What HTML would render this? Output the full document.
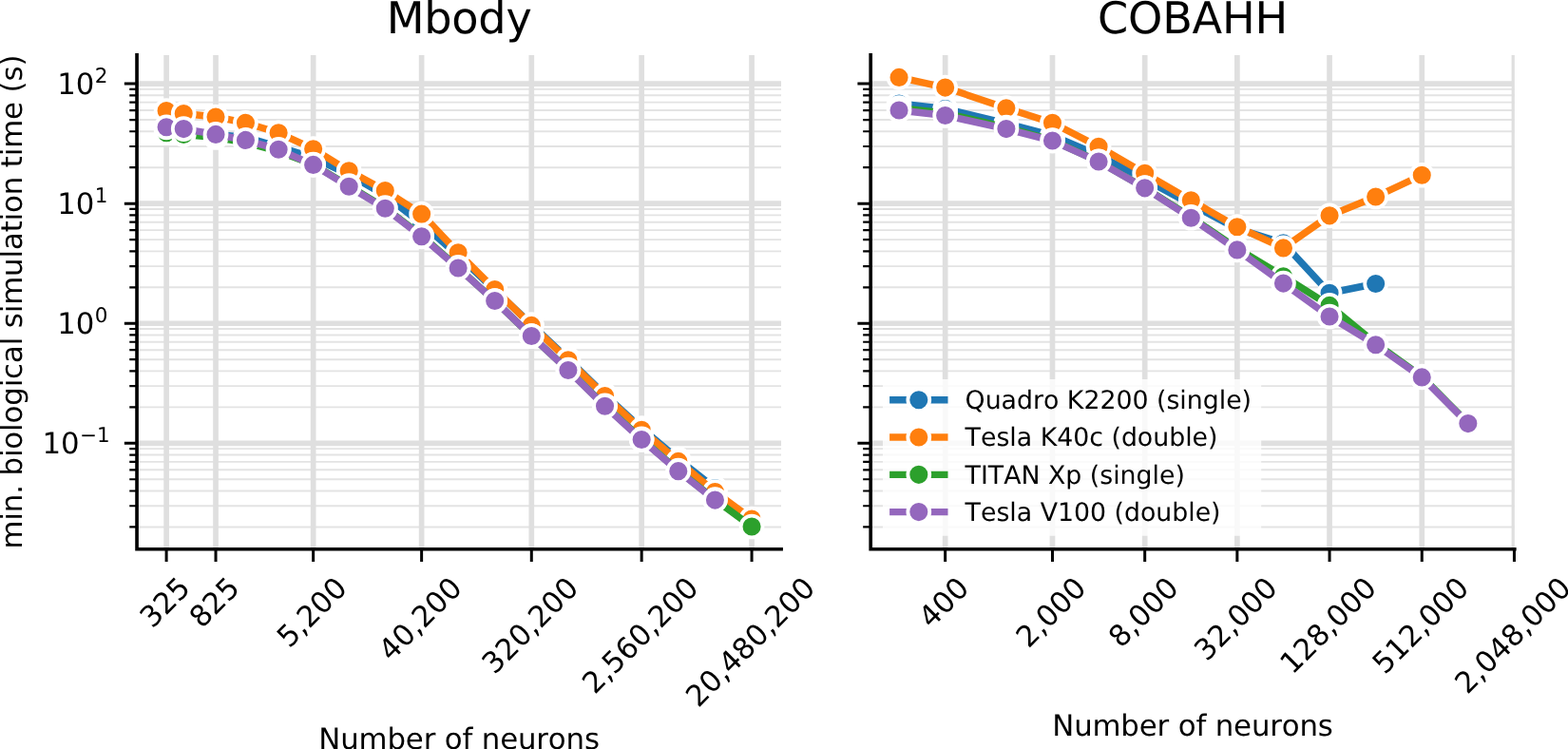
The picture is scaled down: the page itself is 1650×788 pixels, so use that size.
<!DOCTYPE html>
<html lang="en">
<head>
<meta charset="utf-8">
<title>Minimum biological simulation time: Mbody and COBAHH</title>
<style>
html,body{margin:0;padding:0;background:#ffffff;}
body{width:1650px;height:788px;overflow:hidden;}
svg{display:block;}
text{font-family:"DejaVu Sans", "Liberation Sans", sans-serif;font-kerning:none;font-variant-ligatures:none;text-rendering:geometricPrecision;}
</style>
</head>
<body>
<svg width="1650" height="788" viewBox="0 0 1650 788" role="img" aria-label="Minimum biological simulation time versus number of neurons for the Mbody and COBAHH benchmarks" font-family='"DejaVu Sans", "Liberation Sans", sans-serif'>
<rect width="1650" height="788" fill="#ffffff"/>
<defs><clipPath id="clip0"><rect x="144.05" y="57.9" width="678.05" height="519.85"/></clipPath></defs>
<g clip-path="url(#clip0)">
<path d="M144.05 554.43H822.1M144.05 532.23H822.1M144.05 516.48H822.1M144.05 504.26H822.1M144.05 494.28H822.1M144.05 485.84H822.1M144.05 478.53H822.1M144.05 472.08H822.1M144.05 428.36H822.1M144.05 406.16H822.1M144.05 390.41H822.1M144.05 378.19H822.1M144.05 368.21H822.1M144.05 359.77H822.1M144.05 352.46H822.1M144.05 346.01H822.1M144.05 302.29H822.1M144.05 280.09H822.1M144.05 264.34H822.1M144.05 252.12H822.1M144.05 242.14H822.1M144.05 233.7H822.1M144.05 226.39H822.1M144.05 219.94H822.1M144.05 176.22H822.1M144.05 154.02H822.1M144.05 138.27H822.1M144.05 126.05H822.1M144.05 116.07H822.1M144.05 107.63H822.1M144.05 100.32H822.1M144.05 93.87H822.1" stroke="#e3e3e3" stroke-width="1.9" fill="none"/>
<path d="M144.05 88.1H822.1M144.05 214.17H822.1M144.05 340.24H822.1M144.05 466.31H822.1M175.1 57.9V577.75M227.02 57.9V577.75M329.64 57.9V577.75M443.63 57.9V577.75M559.29 57.9V577.75M675.16 57.9V577.75M791.06 57.9V577.75" stroke="#dfdfdf" stroke-width="5.7" fill="none"/>
</g>
<polyline points="175.1,136 193.24,137.8 227.02,141.5 258.45,144.4 293.11,154.6 329.64,165.8 367.19,183.6 405.27,205.5 443.63,235 482.13,268.9 520.69,305.3 559.29,341.5 597.91,377.7 636.53,415.4 675.16,450.7 713.79,483.2 752.43,513.6" fill="none" stroke="#1f77b4" stroke-width="7.4" stroke-linejoin="round" stroke-linecap="butt"/>
<g fill="#1f77b4" stroke="#ffffff" stroke-width="3.8">
<circle cx="175.1" cy="136" r="11.45"/>
<circle cx="193.24" cy="137.8" r="11.45"/>
<circle cx="227.02" cy="141.5" r="11.45"/>
<circle cx="258.45" cy="144.4" r="11.45"/>
<circle cx="293.11" cy="154.6" r="11.45"/>
<circle cx="329.64" cy="165.8" r="11.45"/>
<circle cx="367.19" cy="183.6" r="11.45"/>
<circle cx="405.27" cy="205.5" r="11.45"/>
<circle cx="443.63" cy="235" r="11.45"/>
<circle cx="482.13" cy="268.9" r="11.45"/>
<circle cx="520.69" cy="305.3" r="11.45"/>
<circle cx="559.29" cy="341.5" r="11.45"/>
<circle cx="597.91" cy="377.7" r="11.45"/>
<circle cx="636.53" cy="415.4" r="11.45"/>
<circle cx="675.16" cy="450.7" r="11.45"/>
<circle cx="713.79" cy="483.2" r="11.45"/>
<circle cx="752.43" cy="513.6" r="11.45"/>
</g>
<polyline points="175.1,116.6 193.24,119.5 227.02,123 258.45,129.25 293.11,139.8 329.64,156.7 367.19,179.8 405.27,200.5 443.63,225.15 482.13,265.8 520.69,304.45 559.29,342.4 597.91,378.75 636.53,416.5 675.16,452.2 713.79,485.4 752.43,517.5 791.06,546" fill="none" stroke="#ff7f0e" stroke-width="7.4" stroke-linejoin="round" stroke-linecap="butt"/>
<g fill="#ff7f0e" stroke="#ffffff" stroke-width="3.8">
<circle cx="175.1" cy="116.6" r="11.45"/>
<circle cx="193.24" cy="119.5" r="11.45"/>
<circle cx="227.02" cy="123" r="11.45"/>
<circle cx="258.45" cy="129.25" r="11.45"/>
<circle cx="293.11" cy="139.8" r="11.45"/>
<circle cx="329.64" cy="156.7" r="11.45"/>
<circle cx="367.19" cy="179.8" r="11.45"/>
<circle cx="405.27" cy="200.5" r="11.45"/>
<circle cx="443.63" cy="225.15" r="11.45"/>
<circle cx="482.13" cy="265.8" r="11.45"/>
<circle cx="520.69" cy="304.45" r="11.45"/>
<circle cx="559.29" cy="342.4" r="11.45"/>
<circle cx="597.91" cy="378.75" r="11.45"/>
<circle cx="636.53" cy="416.5" r="11.45"/>
<circle cx="675.16" cy="452.2" r="11.45"/>
<circle cx="713.79" cy="485.4" r="11.45"/>
<circle cx="752.43" cy="517.5" r="11.45"/>
<circle cx="791.06" cy="546" r="11.45"/>
</g>
<polyline points="175.1,139.7 193.24,141.5 227.02,144.5 258.45,150 293.11,159.3 329.64,173.1 367.19,195.7 405.27,218.6 443.63,248 482.13,281.45 520.69,316.7 559.29,353.7 597.91,389.2 636.53,426.8 675.16,461.85 713.79,495.05 752.43,525.6 791.06,554" fill="none" stroke="#2ca02c" stroke-width="7.4" stroke-linejoin="round" stroke-linecap="butt"/>
<g fill="#2ca02c" stroke="#ffffff" stroke-width="3.8">
<circle cx="175.1" cy="139.7" r="11.45"/>
<circle cx="193.24" cy="141.5" r="11.45"/>
<circle cx="227.02" cy="144.5" r="11.45"/>
<circle cx="258.45" cy="150" r="11.45"/>
<circle cx="293.11" cy="159.3" r="11.45"/>
<circle cx="329.64" cy="173.1" r="11.45"/>
<circle cx="367.19" cy="195.7" r="11.45"/>
<circle cx="405.27" cy="218.6" r="11.45"/>
<circle cx="443.63" cy="248" r="11.45"/>
<circle cx="482.13" cy="281.45" r="11.45"/>
<circle cx="520.69" cy="316.7" r="11.45"/>
<circle cx="559.29" cy="353.7" r="11.45"/>
<circle cx="597.91" cy="389.2" r="11.45"/>
<circle cx="636.53" cy="426.8" r="11.45"/>
<circle cx="675.16" cy="461.85" r="11.45"/>
<circle cx="713.79" cy="495.05" r="11.45"/>
<circle cx="752.43" cy="525.6" r="11.45"/>
<circle cx="791.06" cy="554" r="11.45"/>
</g>
<polyline points="175.1,133.8 193.24,135.6 227.02,141.4 258.45,147.4 293.11,157.3 329.64,173.4 367.19,196.3 405.27,219.3 443.63,248.8 482.13,282.05 520.69,316.5 559.29,353.5 597.91,389.5 636.53,427.3 675.16,462.45 713.79,495.65 752.43,526.1" fill="none" stroke="#9467bd" stroke-width="7.4" stroke-linejoin="round" stroke-linecap="butt"/>
<g fill="#9467bd" stroke="#ffffff" stroke-width="3.8">
<circle cx="175.1" cy="133.8" r="11.45"/>
<circle cx="193.24" cy="135.6" r="11.45"/>
<circle cx="227.02" cy="141.4" r="11.45"/>
<circle cx="258.45" cy="147.4" r="11.45"/>
<circle cx="293.11" cy="157.3" r="11.45"/>
<circle cx="329.64" cy="173.4" r="11.45"/>
<circle cx="367.19" cy="196.3" r="11.45"/>
<circle cx="405.27" cy="219.3" r="11.45"/>
<circle cx="443.63" cy="248.8" r="11.45"/>
<circle cx="482.13" cy="282.05" r="11.45"/>
<circle cx="520.69" cy="316.5" r="11.45"/>
<circle cx="559.29" cy="353.5" r="11.45"/>
<circle cx="597.91" cy="389.5" r="11.45"/>
<circle cx="636.53" cy="427.3" r="11.45"/>
<circle cx="675.16" cy="462.45" r="11.45"/>
<circle cx="713.79" cy="495.65" r="11.45"/>
<circle cx="752.43" cy="526.1" r="11.45"/>
</g>
<path d="M144.05 56.07V577.75H823.93" stroke="#000" stroke-width="3.65" fill="none" stroke-linejoin="miter" stroke-linecap="butt"/>
<path d="M175.1 577.75v13.2M227.02 577.75v13.2M329.64 577.75v13.2M443.63 577.75v13.2M559.29 577.75v13.2M675.16 577.75v13.2M791.06 577.75v13.2M144.05 88.1h-13.2M144.05 214.17h-13.2M144.05 340.24h-13.2M144.05 466.31h-13.2" stroke="#000" stroke-width="3.0" fill="none"/>
<path d="M144.05 554.43h-7.8M144.05 532.23h-7.8M144.05 516.48h-7.8M144.05 504.26h-7.8M144.05 494.28h-7.8M144.05 485.84h-7.8M144.05 478.53h-7.8M144.05 472.08h-7.8M144.05 428.36h-7.8M144.05 406.16h-7.8M144.05 390.41h-7.8M144.05 378.19h-7.8M144.05 368.21h-7.8M144.05 359.77h-7.8M144.05 352.46h-7.8M144.05 346.01h-7.8M144.05 302.29h-7.8M144.05 280.09h-7.8M144.05 264.34h-7.8M144.05 252.12h-7.8M144.05 242.14h-7.8M144.05 233.7h-7.8M144.05 226.39h-7.8M144.05 219.94h-7.8M144.05 176.22h-7.8M144.05 154.02h-7.8M144.05 138.27h-7.8M144.05 126.05h-7.8M144.05 116.07h-7.8M144.05 107.63h-7.8M144.05 100.32h-7.8M144.05 93.87h-7.8" stroke="#000" stroke-width="2.2" fill="none"/>
<text transform="translate(201.9 620.45) rotate(-45)" text-anchor="end" font-size="30.8" fill="#000">325</text>
<text transform="translate(253.82 620.45) rotate(-45)" text-anchor="end" font-size="30.8" fill="#000">825</text>
<text transform="translate(366.82 620.45) rotate(-45)" text-anchor="end" font-size="30.8" fill="#000">5,200</text>
<text transform="translate(487.75 620.45) rotate(-45)" text-anchor="end" font-size="30.8" fill="#000">40,200</text>
<text transform="translate(610.33 620.45) rotate(-45)" text-anchor="end" font-size="30.8" fill="#000">320,200</text>
<text transform="translate(736.6 620.45) rotate(-45)" text-anchor="end" font-size="30.8" fill="#000">2,560,200</text>
<text transform="translate(859.42 620.45) rotate(-45)" text-anchor="end" font-size="30.8" fill="#000">20,480,200</text>
<text x="60.15" y="98.9" font-size="30.8" fill="#000">10<tspan dy="-12.0" dx="0.3" font-size="21.5">2</tspan></text>
<text x="60.15" y="224.97" font-size="30.8" fill="#000">10<tspan dy="-12.0" dx="0.3" font-size="21.5">1</tspan></text>
<text x="60.15" y="351.04" font-size="30.8" fill="#000">10<tspan dy="-12.0" dx="0.3" font-size="21.5">0</tspan></text>
<text x="44.4" y="477.01" font-size="30.8" fill="#000">10<tspan dy="-12.0" dx="0.3" font-size="21.5">−1</tspan></text>
<text transform="translate(23.3 317.62) rotate(-90)" text-anchor="middle" font-size="30.8" letter-spacing="-0.118" fill="#000">min. biological simulation time (s)</text>
<text x="483.08" y="788" text-anchor="middle" font-size="30.8" letter-spacing="-0.15" fill="#000">Number of neurons</text>
<text x="483.08" y="34.85" text-anchor="middle" font-size="46.2" letter-spacing="-0.25" fill="#000">Mbody</text>
<defs><clipPath id="clip1"><rect x="916.2" y="57.9" width="677.6" height="519.85"/></clipPath></defs>
<g clip-path="url(#clip1)">
<path d="M916.2 554.43H1593.8M916.2 532.23H1593.8M916.2 516.48H1593.8M916.2 504.26H1593.8M916.2 494.28H1593.8M916.2 485.84H1593.8M916.2 478.53H1593.8M916.2 472.08H1593.8M916.2 428.36H1593.8M916.2 406.16H1593.8M916.2 390.41H1593.8M916.2 378.19H1593.8M916.2 368.21H1593.8M916.2 359.77H1593.8M916.2 352.46H1593.8M916.2 346.01H1593.8M916.2 302.29H1593.8M916.2 280.09H1593.8M916.2 264.34H1593.8M916.2 252.12H1593.8M916.2 242.14H1593.8M916.2 233.7H1593.8M916.2 226.39H1593.8M916.2 219.94H1593.8M916.2 176.22H1593.8M916.2 154.02H1593.8M916.2 138.27H1593.8M916.2 126.05H1593.8M916.2 116.07H1593.8M916.2 107.63H1593.8M916.2 100.32H1593.8M916.2 93.87H1593.8" stroke="#e3e3e3" stroke-width="1.9" fill="none"/>
<path d="M916.2 88.1H1593.8M916.2 214.17H1593.8M916.2 340.24H1593.8M916.2 466.31H1593.8M994.65 57.9V577.75M1107.48 57.9V577.75M1204.68 57.9V577.75M1301.87 57.9V577.75M1399.06 57.9V577.75M1496.25 57.9V577.75M1593.44 57.9V577.75" stroke="#dfdfdf" stroke-width="5.7" fill="none"/>
</g>
<polyline points="946.05,109 994.65,114.4 1058.89,129.8 1107.48,142.65 1156.08,163.5 1204.68,188.45 1253.27,215.1 1301.87,240.6 1350.46,255.75 1399.06,308.25 1447.65,298.5" fill="none" stroke="#1f77b4" stroke-width="7.4" stroke-linejoin="round" stroke-linecap="butt"/>
<g fill="#1f77b4" stroke="#ffffff" stroke-width="3.8">
<circle cx="946.05" cy="109" r="11.45"/>
<circle cx="994.65" cy="114.4" r="11.45"/>
<circle cx="1058.89" cy="129.8" r="11.45"/>
<circle cx="1107.48" cy="142.65" r="11.45"/>
<circle cx="1156.08" cy="163.5" r="11.45"/>
<circle cx="1204.68" cy="188.45" r="11.45"/>
<circle cx="1253.27" cy="215.1" r="11.45"/>
<circle cx="1301.87" cy="240.6" r="11.45"/>
<circle cx="1350.46" cy="255.75" r="11.45"/>
<circle cx="1399.06" cy="308.25" r="11.45"/>
<circle cx="1447.65" cy="298.5" r="11.45"/>
</g>
<polyline points="946.05,81.4 994.65,92.1 1058.89,113.7 1107.48,129.3 1156.08,154.2 1204.68,182.35 1253.27,210.8 1301.87,238.7 1350.46,260.9 1399.06,226.85 1447.65,207 1496.25,184.25" fill="none" stroke="#ff7f0e" stroke-width="7.4" stroke-linejoin="round" stroke-linecap="butt"/>
<g fill="#ff7f0e" stroke="#ffffff" stroke-width="3.8">
<circle cx="946.05" cy="81.4" r="11.45"/>
<circle cx="994.65" cy="92.1" r="11.45"/>
<circle cx="1058.89" cy="113.7" r="11.45"/>
<circle cx="1107.48" cy="129.3" r="11.45"/>
<circle cx="1156.08" cy="154.2" r="11.45"/>
<circle cx="1204.68" cy="182.35" r="11.45"/>
<circle cx="1253.27" cy="210.8" r="11.45"/>
<circle cx="1301.87" cy="238.7" r="11.45"/>
<circle cx="1350.46" cy="260.9" r="11.45"/>
<circle cx="1399.06" cy="226.85" r="11.45"/>
<circle cx="1447.65" cy="207" r="11.45"/>
<circle cx="1496.25" cy="184.25" r="11.45"/>
</g>
<polyline points="946.05,113.6 994.65,119 1058.89,134.1 1107.48,147.65 1156.08,169.9 1204.68,197.65 1253.27,228.45 1301.87,261.4 1350.46,290.75 1399.06,321.4 1447.65,361.3 1496.25,396.2 1544.84,445.1" fill="none" stroke="#2ca02c" stroke-width="7.4" stroke-linejoin="round" stroke-linecap="butt"/>
<g fill="#2ca02c" stroke="#ffffff" stroke-width="3.8">
<circle cx="946.05" cy="113.6" r="11.45"/>
<circle cx="994.65" cy="119" r="11.45"/>
<circle cx="1058.89" cy="134.1" r="11.45"/>
<circle cx="1107.48" cy="147.65" r="11.45"/>
<circle cx="1156.08" cy="169.9" r="11.45"/>
<circle cx="1204.68" cy="197.65" r="11.45"/>
<circle cx="1253.27" cy="228.45" r="11.45"/>
<circle cx="1301.87" cy="261.4" r="11.45"/>
<circle cx="1350.46" cy="290.75" r="11.45"/>
<circle cx="1399.06" cy="321.4" r="11.45"/>
<circle cx="1447.65" cy="361.3" r="11.45"/>
<circle cx="1496.25" cy="396.2" r="11.45"/>
<circle cx="1544.84" cy="445.1" r="11.45"/>
</g>
<polyline points="946.05,116.05 994.65,121.45 1058.89,135.6 1107.48,148.05 1156.08,170 1204.68,197.85 1253.27,229.25 1301.87,262.9 1350.46,298.1 1399.06,333 1447.65,362.7 1496.25,396.9 1544.84,445.6" fill="none" stroke="#9467bd" stroke-width="7.4" stroke-linejoin="round" stroke-linecap="butt"/>
<g fill="#9467bd" stroke="#ffffff" stroke-width="3.8">
<circle cx="946.05" cy="116.05" r="11.45"/>
<circle cx="994.65" cy="121.45" r="11.45"/>
<circle cx="1058.89" cy="135.6" r="11.45"/>
<circle cx="1107.48" cy="148.05" r="11.45"/>
<circle cx="1156.08" cy="170" r="11.45"/>
<circle cx="1204.68" cy="197.85" r="11.45"/>
<circle cx="1253.27" cy="229.25" r="11.45"/>
<circle cx="1301.87" cy="262.9" r="11.45"/>
<circle cx="1350.46" cy="298.1" r="11.45"/>
<circle cx="1399.06" cy="333" r="11.45"/>
<circle cx="1447.65" cy="362.7" r="11.45"/>
<circle cx="1496.25" cy="396.9" r="11.45"/>
<circle cx="1544.84" cy="445.6" r="11.45"/>
</g>
<rect x="929" y="399" width="398.20000000000005" height="164.79999999999995" rx="5" ry="5" fill="#ffffff" fill-opacity="0.8" stroke="#cccccc" stroke-opacity="0.0"/>
<path d="M936.1 420.8H997.5" stroke="#1f77b4" stroke-width="7.4" fill="none"/>
<circle cx="966.8" cy="420.8" r="11.45" fill="#1f77b4" stroke="#ffffff" stroke-width="3.8"/>
<text x="1015.6" y="430.1" font-size="26.75" fill="#000">Quadro K2200 (single)</text>
<path d="M936.1 460.07H997.5" stroke="#ff7f0e" stroke-width="7.4" fill="none"/>
<circle cx="966.8" cy="460.07" r="11.45" fill="#ff7f0e" stroke="#ffffff" stroke-width="3.8"/>
<text x="1015.6" y="469.37" font-size="26.75" fill="#000">Tesla K40c (double)</text>
<path d="M936.1 499.34H997.5" stroke="#2ca02c" stroke-width="7.4" fill="none"/>
<circle cx="966.8" cy="499.34" r="11.45" fill="#2ca02c" stroke="#ffffff" stroke-width="3.8"/>
<text x="1015.6" y="508.64" font-size="26.75" fill="#000">TITAN Xp (single)</text>
<path d="M936.1 538.61H997.5" stroke="#9467bd" stroke-width="7.4" fill="none"/>
<circle cx="966.8" cy="538.61" r="11.45" fill="#9467bd" stroke="#ffffff" stroke-width="3.8"/>
<text x="1015.6" y="547.91" font-size="26.75" fill="#000">Tesla V100 (double)</text>
<path d="M916.2 56.07V577.75H1595.62" stroke="#000" stroke-width="3.65" fill="none" stroke-linejoin="miter" stroke-linecap="butt"/>
<path d="M994.65 577.75v13.2M1107.48 577.75v13.2M1204.68 577.75v13.2M1301.87 577.75v13.2M1399.06 577.75v13.2M1496.25 577.75v13.2M1593.44 577.75v13.2M916.2 88.1h-13.8M916.2 214.17h-13.8M916.2 340.24h-13.8M916.2 466.31h-13.8" stroke="#000" stroke-width="3.0" fill="none"/>
<path d="M916.2 554.43h-8.05M916.2 532.23h-8.05M916.2 516.48h-8.05M916.2 504.26h-8.05M916.2 494.28h-8.05M916.2 485.84h-8.05M916.2 478.53h-8.05M916.2 472.08h-8.05M916.2 428.36h-8.05M916.2 406.16h-8.05M916.2 390.41h-8.05M916.2 378.19h-8.05M916.2 368.21h-8.05M916.2 359.77h-8.05M916.2 352.46h-8.05M916.2 346.01h-8.05M916.2 302.29h-8.05M916.2 280.09h-8.05M916.2 264.34h-8.05M916.2 252.12h-8.05M916.2 242.14h-8.05M916.2 233.7h-8.05M916.2 226.39h-8.05M916.2 219.94h-8.05M916.2 176.22h-8.05M916.2 154.02h-8.05M916.2 138.27h-8.05M916.2 126.05h-8.05M916.2 116.07h-8.05M916.2 107.63h-8.05M916.2 100.32h-8.05M916.2 93.87h-8.05" stroke="#000" stroke-width="2.2" fill="none"/>
<text transform="translate(1021.45 620.45) rotate(-45)" text-anchor="end" font-size="30.8" fill="#000">400</text>
<text transform="translate(1144.67 620.45) rotate(-45)" text-anchor="end" font-size="30.8" fill="#000">2,000</text>
<text transform="translate(1241.86 620.45) rotate(-45)" text-anchor="end" font-size="30.8" fill="#000">8,000</text>
<text transform="translate(1345.98 620.45) rotate(-45)" text-anchor="end" font-size="30.8" fill="#000">32,000</text>
<text transform="translate(1450.1 620.45) rotate(-45)" text-anchor="end" font-size="30.8" fill="#000">128,000</text>
<text transform="translate(1547.29 620.45) rotate(-45)" text-anchor="end" font-size="30.8" fill="#000">512,000</text>
<text transform="translate(1654.87 620.45) rotate(-45)" text-anchor="end" font-size="30.8" fill="#000">2,048,000</text>
<text x="1255" y="774.3" text-anchor="middle" font-size="30.8" letter-spacing="-0.15" fill="#000">Number of neurons</text>
<text x="1255" y="34.85" text-anchor="middle" font-size="46.2" letter-spacing="-0.25" fill="#000">COBAHH</text>
</svg>
</body>
</html>
